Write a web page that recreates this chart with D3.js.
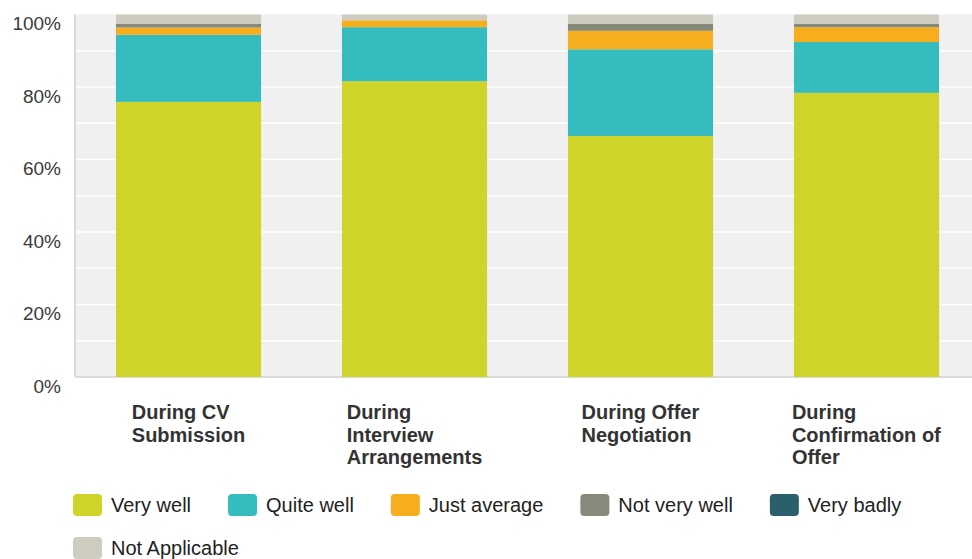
<!DOCTYPE html>
<html>
<head>
<meta charset="utf-8">
<script src="https://cdn.jsdelivr.net/npm/d3@7"></script>
<style>
  body { margin: 0; background: #fff; }
  svg { display: block; font-family: "Liberation Sans", Arial, sans-serif; }
  .tick-label { font-size: 19px; fill: #3a3a3a; }
  .cat-label { font-size: 20px; font-weight: bold; fill: #333; }
  .legend-label { font-size: 20px; fill: #222; }
</style>
</head>
<body>
<svg id="chart"></svg>
<script>
// categories and series (percent of respondents)
const categories = ['During CV Submission', 'During Interview Arrangements',
  'During Offer Negotiation', 'During Confirmation of Offer'];
const categoryLines = [
  ['During CV', 'Submission'],
  ['During', 'Interview', 'Arrangements'],
  ['During Offer', 'Negotiation'],
  ['During', 'Confirmation of', 'Offer']
];
const seriesNames = ['Very well', 'Quite well', 'Just average', 'Not very well', 'Very badly', 'Not Applicable'];
const seriesColors = ['#ced42a', '#34bcbe', '#f6ae1e', '#868a7a', '#2c5f6c', '#cdccbe'];

const veryWell = [75.9, 81.6, 66.5, 78.4];
const quiteWell = [18.5, 14.9, 23.9, 14.0];
const justAverage = [2.0, 1.9, 5.1, 4.1];
const notVeryWell = [1.1, 0, 2.0, 0.9];
const veryBadly = [0, 0, 0, 0];
const notApplicable = [2.5, 1.6, 2.5, 2.6];

const yTicks = [0, 20, 40, 60, 80, 100];
const yGrid = [10, 20, 30, 40, 50, 60, 70, 80, 90];

const fullWidth = 972;
const fullHeight = 559;

const seriesValues = [veryWell, quiteWell, justAverage, notVeryWell, veryBadly, notApplicable];
const table = categories.map((c, i) => {
  const row = { category: c };
  seriesNames.forEach((s, j) => { row[s] = seriesValues[j][i]; });
  return row;
});

const svg = d3.select('#chart')
    .attr('width', fullWidth)
    .attr('height', fullHeight);

const x = d3.scaleBand()
    .domain(categories)
    .range([75.5, 979.5])
    .paddingInner(0.358)
    .paddingOuter(0.179);

const y = d3.scaleLinear()
    .domain([0, 100])
    .range([377, 14.5]);

// plot background
svg.append('rect')
    .attr('x', 75)
    .attr('y', y(100))
    .attr('width', fullWidth - 75)
    .attr('height', y(0) - y(100))
    .attr('fill', '#f0f0f0');

// gridlines
svg.append('g')
  .selectAll('line')
    .data(yGrid)
  .enter().append('line')
    .attr('x1', 76)
    .attr('x2', fullWidth)
    .attr('y1', d => y(d))
    .attr('y2', d => y(d))
    .attr('stroke', '#fff')
    .attr('stroke-width', 1.5);

// axis lines
svg.append('line')
    .attr('x1', 75).attr('x2', 75)
    .attr('y1', y(100)).attr('y2', y(0))
    .attr('stroke', '#dadada').attr('stroke-width', 2);
svg.append('line')
    .attr('x1', 75).attr('x2', fullWidth)
    .attr('y1', y(0)).attr('y2', y(0))
    .attr('stroke', '#dadada').attr('stroke-width', 2);

// y tick labels
const yAxis = svg.append('g')
    .attr('transform', 'translate(61, 0)')
    .call(d3.axisLeft(y)
      .tickValues(yTicks)
      .tickFormat(d => `${d}%`)
      .tickSize(0)
      .tickPadding(0));
yAxis.select('.domain').remove();
yAxis.selectAll('text')
    .attr('class', 'tick-label')
    .attr('dy', '0.75em')
    .attr('y', 1)
    .attr('font-family', null)
    .attr('font-size', null)
    .attr('fill', null);

// stacked bars
const stack = d3.stack().keys(seriesNames);
const layers = stack(table);

svg.append('g')
  .selectAll('g')
    .data(layers)
  .enter().append('g')
    .attr('fill', (d, i) => seriesColors[i])
  .selectAll('rect')
    .data(d => d)
  .enter().append('rect')
    .attr('x', d => x(d.data.category))
    .attr('width', x.bandwidth())
    .attr('y', d => y(d[1]))
    .attr('height', d => y(d[0]) - y(d[1]));

// category labels: left aligned blocks centred under each bar
const catG = svg.append('g');
categories.forEach((c, i) => {
  const t = catG.append('text')
      .attr('class', 'cat-label')
      .attr('y', 419);
  categoryLines[i].forEach((line, k) => {
    t.append('tspan')
        .attr('x', 0)
        .attr('dy', k === 0 ? 0 : 22.5)
        .text(line);
  });
  const w = t.node().getBBox().width;
  const cx = x(c) + x.bandwidth() / 2;
  t.selectAll('tspan').attr('x', cx - w / 2);
});

// legend
const legend = svg.append('g');
const rows = [[0, 1, 2, 3, 4], [5]];
rows.forEach((row, r) => {
  let lx = 73;
  const ly = 494 + r * 43;
  row.forEach((si) => {
    legend.append('rect')
        .attr('x', lx)
        .attr('y', ly)
        .attr('width', 29)
        .attr('height', 22)
        .attr('rx', 4)
        .attr('fill', seriesColors[si]);
    const t = legend.append('text')
        .attr('class', 'legend-label')
        .attr('x', lx + 38)
        .attr('y', ly + 18)
        .text(seriesNames[si]);
    lx += 38 + t.node().getComputedTextLength() + 37;
  });
});
</script>
</body>
</html>
